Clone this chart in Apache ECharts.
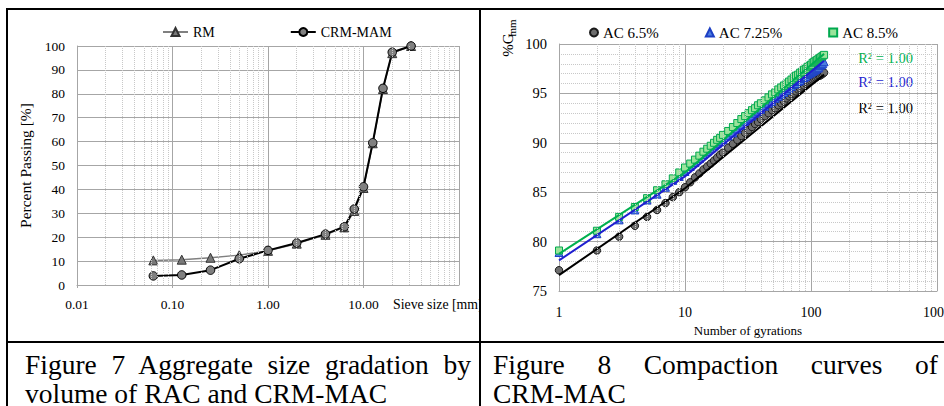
<!DOCTYPE html>
<html>
<head>
<meta charset="utf-8">
<script src="https://cdn.jsdelivr.net/npm/echarts@6/dist/echarts.min.js"></script>
<style>
  body { margin: 0; background: #fff; width: 944px; height: 406px; overflow: hidden; position: relative;
         font-family: 'Liberation Serif', 'Times New Roman', serif; }
  .ln { position: absolute; background: #000; }
  #left { position: absolute; left: 8px; top: 10px; width: 471px; height: 331px; overflow: hidden; }
  #right { position: absolute; left: 481px; top: 10px; width: 463px; height: 331px; overflow: hidden; }
  .cap { position: absolute; font-size: 27.5px; line-height: 29px; color: #000; white-space: nowrap; }
  .just { text-align: justify; text-align-last: justify; white-space: normal; }
</style>
</head>
<body>
<div class="ln" style="left:6px;top:8px;width:938px;height:2px"></div>
<div class="ln" style="left:6px;top:8px;width:2px;height:398px"></div>
<div class="ln" style="left:479px;top:8px;width:2px;height:398px"></div>
<div class="ln" style="left:6px;top:341px;width:938px;height:2px"></div>

<div id="left"></div>
<div id="right"></div>

<div class="cap just" style="left:25px;top:350px;width:446px">Figure 7 Aggregate size gradation by</div>
<div class="cap" style="left:25px;top:379px">volume of RAC and CRM-MAC</div>
<div class="cap just" style="left:493px;top:350px;width:445px">Figure 8 Compaction curves of</div>
<div class="cap" style="left:493px;top:379px">CRM-MAC</div>

<script>
var FONT = "'Liberation Serif', 'Times New Roman', serif";

// Figure 7 - gradation
var sieveSizes = [0.063, 0.125, 0.25, 0.5, 1, 2, 4, 6.3, 8, 10, 12.5, 16, 20, 31.5];
var passingRM  = [10.3, 10.6, 11.4, 12.5, 14.3, 17.3, 21.0, 24.1, 31.0, 40.6, 59.3, 82.0, 97.0, 100];
var passingCRM = [3.8, 4.2, 6.2, 11.0, 14.5, 17.6, 21.3, 24.4, 31.8, 41.1, 59.5, 82.3, 97.4, 100];
var leftDecades = [0.01, 0.1, 1, 10];

// Figure 8 - compaction
var gyrations = [1, 2, 3, 4, 5, 6, 7, 8, 9, 10, 11, 12, 13, 14, 15, 16, 17, 18, 19, 20,
  22, 24, 26, 28, 30, 32, 34, 36, 38, 40,
  43, 46, 49, 52, 55, 58, 61, 64, 67, 70, 73, 76, 79, 82, 85, 88, 91, 94, 97, 100,
  103, 106, 109, 112, 115, 118, 121, 124, 127];
var gmmAC65 = [77.1, 79.1, 80.5, 81.6, 82.5, 83.2, 83.9, 84.5, 85.0, 85.5, 86.0, 86.5, 86.9, 87.3, 87.6, 87.9, 88.2, 88.5, 88.8, 89.0,
  89.5, 89.9, 90.3, 90.7, 91.0, 91.3, 91.6, 91.9, 92.1, 92.4,
  92.7, 93.0, 93.3, 93.5, 93.8, 94.0, 94.2, 94.5, 94.7, 94.9, 95.0, 95.2, 95.4, 95.5, 95.7, 95.8, 96.0, 96.1, 96.2, 96.3,
  96.4, 96.5, 96.6, 96.7, 96.8, 96.8, 96.9, 97.0, 97.1];
var gmmAC725 = [78.9, 80.8, 82.2, 83.2, 84.2, 84.8, 85.5, 86.2, 86.6, 87.1, 87.6, 88.0, 88.4, 88.8, 89.1, 89.4, 89.7, 89.9, 90.1, 90.3,
  90.7, 91.0, 91.4, 91.8, 92.2, 92.5, 92.7, 93.0, 93.2, 93.4,
  93.7, 94.0, 94.2, 94.5, 94.7, 94.9, 95.1, 95.3, 95.5, 95.7, 95.9, 96.0, 96.2, 96.3, 96.5, 96.6, 96.7, 96.9, 97.0, 97.1,
  97.2, 97.3, 97.4, 97.5, 97.6, 97.8, 97.9, 98.0, 98.2];
var gmmAC85 = [79.1, 81.1, 82.5, 83.5, 84.4, 85.2, 85.8, 86.4, 87.0, 87.5, 87.9, 88.3, 88.7, 89.1, 89.4, 89.7, 90.0, 90.3, 90.5, 90.8,
  91.2, 91.6, 92.0, 92.4, 92.7, 93.0, 93.3, 93.5, 93.8, 94.0,
  94.3, 94.6, 94.9, 95.1, 95.4, 95.6, 95.8, 96.0, 96.2, 96.4, 96.6, 96.8, 96.9, 97.1, 97.2, 97.4, 97.5, 97.7, 97.8, 97.9,
  98.1, 98.2, 98.3, 98.4, 98.5, 98.6, 98.7, 98.8, 98.9];
var trendN = [1, 10, 127];
var trendAC65 = [76.6, 85.4, 96.9];
var trendAC725 = [78.1, 86.6, 98.3];
var trendAC85 = [78.75, 87.0, 99.0];
var rightDecades = [1, 10, 100];

function minorLines(decades) {
  var out = [];
  decades.forEach(function (d) {
    for (var k = 2; k <= 9; k++) out.push({ xAxis: +(k * d).toPrecision(3) });
  });
  return out;
}
function pairs(xs, ys) {
  return xs.map(function (x, i) { return [x, ys[i]]; });
}
var minorStyle = { color: '#c8c8c8', type: 'dotted', width: 1 };
var majorStyle = { color: '#a6a6a6', width: 1 };

// ---------- left chart ----------
var leftChart = echarts.init(document.getElementById('left'), null, { renderer: 'svg' });
leftChart.setOption({
  animation: false,
  legend: {
    left: 149, top: 10, itemWidth: 25, itemHeight: 10, itemGap: 75,
    data: ['RM', 'CRM-MAM'],
    textStyle: { fontFamily: FONT, fontSize: 14, color: '#000' }
  },
  grid: { left: 69, right: 20, top: 36, bottom: 56, outerBoundsMode: 'none' },
  xAxis: {
    type: 'log', logBase: 10, min: 0.01, max: 100,
    axisLine: { show: true, lineStyle: { color: '#a6a6a6' } },
    axisTick: { show: true, length: 3, lineStyle: { color: '#a6a6a6' } },
    axisLabel: {
      showMaxLabel: false, margin: 12, color: '#000', fontFamily: FONT, fontSize: 13.5,
      alignMinLabel: 'center',
      formatter: function (v) { return v.toFixed(2); }
    },
    splitLine: { show: true, lineStyle: majorStyle }
  },
  yAxis: {
    type: 'value', min: 0, max: 100, interval: 10,
    name: 'Percent Passing [%]', nameLocation: 'middle', nameGap: 31,
    nameTextStyle: { fontFamily: FONT, fontSize: 15.5, color: '#000' },
    axisLine: { show: true, lineStyle: { color: '#a6a6a6' } },
    axisTick: { show: false },
    axisLabel: { margin: 12, color: '#000', fontFamily: FONT, fontSize: 13.5 },
    splitLine: { show: true, lineStyle: majorStyle }
  },
  graphic: [{
    type: 'text', left: 385, top: 287,
    style: { text: 'Sieve size [mm]', fontFamily: FONT, fontSize: 13.8, fill: '#000' }
  }],
  series: [
    {
      type: 'line', data: [], silent: true, z: 1,
      markLine: { silent: true, symbol: ['none', 'none'], label: { show: false },
        lineStyle: minorStyle, data: minorLines(leftDecades) }
    },
    {
      name: 'RM', type: 'line', data: pairs(sieveSizes, passingRM),
      symbol: 'triangle', symbolSize: 9,
      lineStyle: { color: '#808080', width: 1.5 },
      itemStyle: { color: '#7a7a7a', borderColor: '#333', borderWidth: 1 }
    },
    {
      name: 'CRM-MAM', type: 'line', data: pairs(sieveSizes, passingCRM),
      symbol: 'circle', symbolSize: 8.5,
      lineStyle: { color: '#000', width: 2 },
      itemStyle: { color: '#808080', borderColor: '#000', borderWidth: 1 }
    }
  ]
});

// ---------- right chart ----------
var rightChart = echarts.init(document.getElementById('right'), null, { renderer: 'svg' });
rightChart.setOption({
  animation: false,
  legend: {
    left: 103, top: 10, itemWidth: 8, itemHeight: 8, itemGap: 46,
    data: ['AC 6.5%', 'AC 7.25%', 'AC 8.5%'],
    textStyle: { fontFamily: FONT, fontSize: 15, color: '#000' }
  },
  grid: { left: 78, right: 7, top: 34, bottom: 50, outerBoundsMode: 'none' },
  xAxis: {
    type: 'log', logBase: 10, min: 1, max: 1000,
    name: 'Number of gyrations', nameLocation: 'middle', nameGap: 31,
    nameTextStyle: { fontFamily: FONT, fontSize: 13, color: '#000' },
    axisLine: { show: true, lineStyle: { color: '#a6a6a6' } },
    axisTick: { show: false },
    axisLabel: { margin: 14, color: '#000', fontFamily: FONT, fontSize: 14,
      alignMinLabel: 'center', alignMaxLabel: 'center',
      formatter: function (v) { return String(Math.round(v)); } },
    splitLine: { show: true, lineStyle: majorStyle }
  },
  yAxis: {
    type: 'value', min: 75, max: 100, interval: 5,
    axisLine: { show: true, lineStyle: { color: '#a6a6a6' } },
    axisTick: { show: false },
    minorTick: { show: false, splitNumber: 5 },
    minorSplitLine: { show: true, lineStyle: minorStyle },
    axisLabel: { margin: 12, color: '#000', fontFamily: FONT, fontSize: 14.5 },
    splitLine: { show: true, lineStyle: majorStyle }
  },
  graphic: [
    { type: 'text', x: 27, y: 35, rotation: Math.PI / 2,
      style: { text: '%G', fontFamily: FONT, fontSize: 15, fill: '#000', align: 'center', verticalAlign: 'middle' } },
    { type: 'text', x: 31, y: 18, rotation: Math.PI / 2,
      style: { text: 'mm', fontFamily: FONT, fontSize: 11, fill: '#000', align: 'center', verticalAlign: 'middle' } },
    { type: 'text', x: 432, y: 48,
      style: { text: 'R² = 1.00', fontFamily: FONT, fontSize: 14.5, fill: '#00b050', align: 'right', verticalAlign: 'middle' } },
    { type: 'text', x: 432, y: 72,
      style: { text: 'R² = 1.00', fontFamily: FONT, fontSize: 14.5, fill: '#1f1fd0', align: 'right', verticalAlign: 'middle' } },
    { type: 'text', x: 432, y: 98,
      style: { text: 'R² = 1.00', fontFamily: FONT, fontSize: 14.5, fill: '#000', align: 'right', verticalAlign: 'middle' } }
  ],
  series: [
    {
      type: 'line', data: [], silent: true, z: 1,
      markLine: { silent: true, symbol: ['none', 'none'], label: { show: false },
        lineStyle: minorStyle, data: minorLines(rightDecades) }
    },
    {
      name: 'AC 6.5%', type: 'scatter', data: pairs(gyrations, gmmAC65),
      symbol: 'circle', symbolSize: 7.5,
      itemStyle: { color: '#6e6e6e', borderColor: '#1a1a1a', borderWidth: 1, opacity: 1 }
    },
    {
      name: 'AC 7.25%', type: 'scatter', data: pairs(gyrations, gmmAC725),
      symbol: 'triangle', symbolSize: 8,
      itemStyle: { color: '#4d7fe0', borderColor: '#1c3fc4', borderWidth: 1, opacity: 1 }
    },
    {
      name: 'AC 8.5%', type: 'scatter', data: pairs(gyrations, gmmAC85),
      symbol: 'rect', symbolSize: 7,
      itemStyle: { color: '#9be39b', borderColor: '#00a94f', borderWidth: 1, opacity: 1 }
    },
    { type: 'line', data: pairs(trendN, trendAC65), symbol: 'none', lineStyle: { color: '#000', width: 2 } },
    { type: 'line', data: pairs(trendN, trendAC725), symbol: 'none', lineStyle: { color: '#1f1fd0', width: 2 } },
    { type: 'line', data: pairs(trendN, trendAC85), symbol: 'none', lineStyle: { color: '#00b050', width: 2 } }
  ]
});
</script>
</body>
</html>
